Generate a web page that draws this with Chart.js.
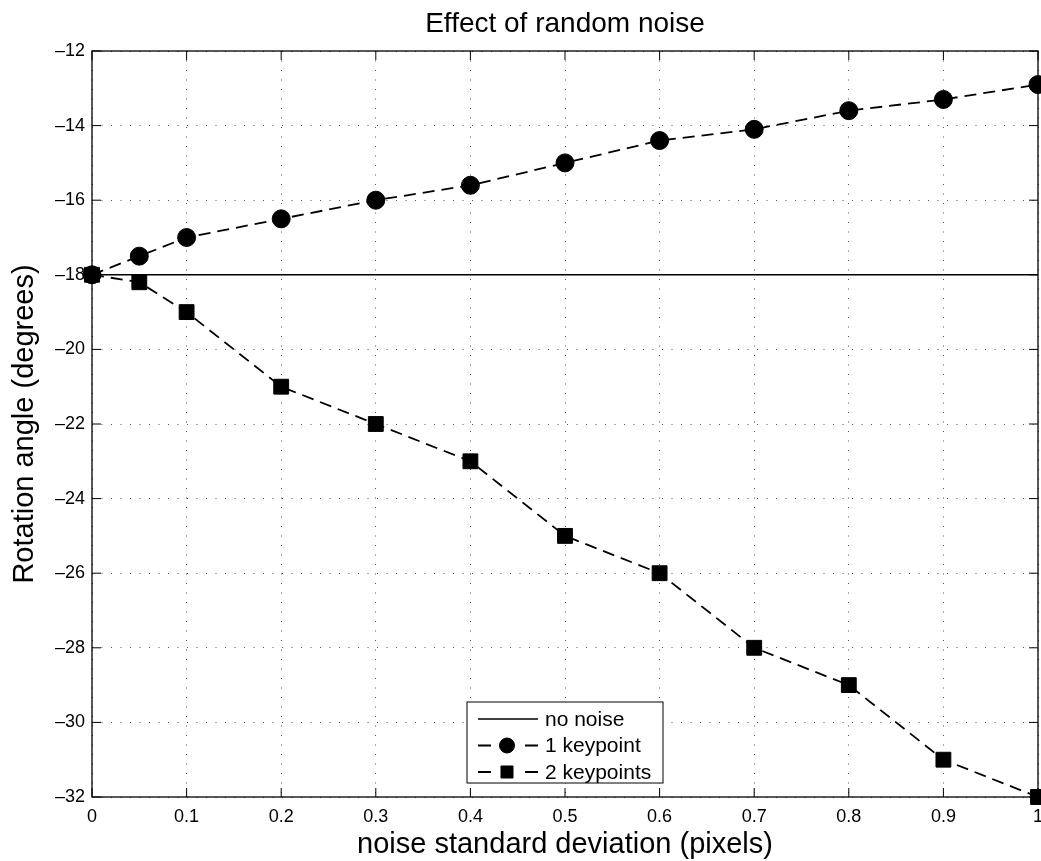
<!DOCTYPE html>
<html>
<head>
<meta charset="utf-8">
<script src="https://cdn.jsdelivr.net/npm/chart.js@4/dist/chart.umd.min.js"></script>
<style>
html,body{margin:0;padding:0;background:#fff;}
#wrap{position:relative;width:1041px;height:861px;}
</style>
</head>
<body>
<div id="wrap"><canvas id="c" width="1041" height="861"></canvas></div>
<script>
const noiseLevels = [0, 0.05, 0.1, 0.2, 0.3, 0.4, 0.5, 0.6, 0.7, 0.8, 0.9, 1.0];
const noNoise = [-18, -18];
const noNoiseX = [0, 1];
const oneKeypoint = [-18, -17.5, -17, -16.5, -16, -15.6, -15, -14.4, -14.1, -13.6, -13.3, -12.9];
const twoKeypoints = [-18, -18.2, -19, -21, -22, -23, -25, -26, -28, -29, -31, -32];
const seriesLabels = ['no noise', '1 keypoint', '2 keypoints'];
const chartTitle = 'Effect of random noise';
const xTitle = 'noise standard deviation (pixels)';
const yTitle = 'Rotation angle (degrees)';

const FONT = "'Liberation Sans', Arial, sans-serif";

const framePlugin = {
  id: 'frame',
  afterDraw(chart) {
    const ctx = chart.ctx, a = chart.chartArea;
    const xs = chart.scales.x, ys = chart.scales.y;
    ctx.save();
    ctx.strokeStyle = '#000';
    ctx.lineWidth = 1.3;
    ctx.strokeRect(a.left, a.top, a.right - a.left, a.bottom - a.top);
    const tl = 9;
    ctx.beginPath();
    xs.ticks.forEach(t => {
      const px = xs.getPixelForValue(t.value);
      ctx.moveTo(px, a.bottom); ctx.lineTo(px, a.bottom - tl);
      ctx.moveTo(px, a.top); ctx.lineTo(px, a.top + tl);
    });
    ys.ticks.forEach(t => {
      const py = ys.getPixelForValue(t.value);
      ctx.moveTo(a.left, py); ctx.lineTo(a.left + tl, py);
      ctx.moveTo(a.right, py); ctx.lineTo(a.right - tl, py);
    });
    ctx.lineWidth = 1;
    ctx.stroke();
    // titles
    ctx.fillStyle = '#000';
    ctx.textAlign = 'center';
    ctx.textBaseline = 'alphabetic';
    const cx = (a.left + a.right) / 2, cy = (a.top + a.bottom) / 2;
    ctx.font = '28px ' + FONT;
    ctx.fillText(chartTitle, cx, 32);
    ctx.font = '29px ' + FONT;
    ctx.fillText(xTitle, cx, 853);
    ctx.save();
    ctx.translate(33, cy);
    ctx.rotate(-Math.PI / 2);
    ctx.fillText(yTitle, 0, 0);
    ctx.restore();
    // legend
    const lx = 467, ly = 702, lw = 196, lh = 81;
    ctx.fillStyle = '#fff';
    ctx.fillRect(lx, ly, lw, lh);
    ctx.strokeStyle = '#000';
    ctx.lineWidth = 1;
    ctx.strokeRect(lx, ly, lw, lh);
    ctx.font = '21px ' + FONT;
    ctx.textAlign = 'left';
    ctx.textBaseline = 'middle';
    chart.data.datasets.forEach((ds, i) => {
      const ry = ly + 17 + i * 26.5;
      ctx.save();
      ctx.strokeStyle = '#000';
      ctx.lineWidth = ds.borderWidth;
      ctx.setLineDash([]);
      ctx.beginPath();
      if (ds.pointRadius > 0) {
        ctx.moveTo(lx + 11, ry); ctx.lineTo(lx + 24, ry);
        ctx.moveTo(lx + 58, ry); ctx.lineTo(lx + 71, ry);
      } else {
        ctx.moveTo(lx + 11, ry); ctx.lineTo(lx + 71, ry);
      }
      ctx.stroke();
      ctx.restore();
      if (ds.pointRadius > 0) {
        ctx.fillStyle = '#000';
        ctx.strokeStyle = '#000';
        ctx.lineWidth = 1;
        ctx.setLineDash([]);
        Chart.helpers.drawPoint(ctx, {pointStyle: ds.pointStyle, radius: ds.pointStyle === 'circle' ? 7.5 : 8.5, borderWidth: 1, rotation: 0}, lx + 40, ry);
      }
      ctx.fillStyle = '#000';
      ctx.fillText(ds.label, lx + 78, ry + 1);
    });
    ctx.restore();
  }
};

const pointsOf = (xs, ys) => xs.map((x, i) => ({x: x, y: ys[i]}));

new Chart(document.getElementById('c'), {
  type: 'scatter',
  data: {
    datasets: [
      {label: seriesLabels[0], data: pointsOf(noNoiseX, noNoise), showLine: true, borderColor: '#000', borderWidth: 1.6, pointRadius: 0, borderDash: []},
      {label: seriesLabels[1], data: pointsOf(noiseLevels, oneKeypoint), showLine: true, borderColor: '#000', backgroundColor: '#000', borderWidth: 1.8, borderDash: [12, 7], pointStyle: 'circle', pointRadius: 9, pointBorderWidth: 1},
      {label: seriesLabels[2], data: pointsOf(noiseLevels, twoKeypoints), showLine: true, borderColor: '#000', backgroundColor: '#000', borderWidth: 1.8, borderDash: [12, 7], pointStyle: 'rect', pointRadius: 10.5, pointBorderWidth: 1}
    ]
  },
  options: {
    responsive: false,
    animation: false,
    clip: false,
    layout: {autoPadding: false, padding: {top: 51, right: 3, left: 0, bottom: 0}},
    plugins: {legend: {display: false}, title: {display: false}, tooltip: {enabled: false}},
    scales: {
      x: {
        type: 'linear', min: 0, max: 1,
        ticks: {stepSize: 0.1, color: '#000', font: {family: FONT, size: 18}, padding: 9, maxRotation: 0,
          callback: v => String(Number(v.toFixed(1)))},
        grid: {color: '#555', lineWidth: 1, drawTicks: false},
        border: {display: false, dash: [1, 8.5]},
        afterFit: s => { s.height = 64; s.paddingLeft = 0; s.paddingRight = 0; }
      },
      y: {
        type: 'linear', min: -32, max: -12,
        ticks: {stepSize: 2, color: '#000', font: {family: FONT, size: 18}, padding: 7,
          callback: v => String(v).replace('-', '\u2013')},
        grid: {color: '#555', lineWidth: 1, drawTicks: false},
        border: {display: false, dash: [1, 8.5]},
        afterFit: s => { s.width = 92; s.paddingTop = 0; s.paddingBottom = 0; }
      }
    }
  },
  plugins: [framePlugin]
});
</script>
</body>
</html>
